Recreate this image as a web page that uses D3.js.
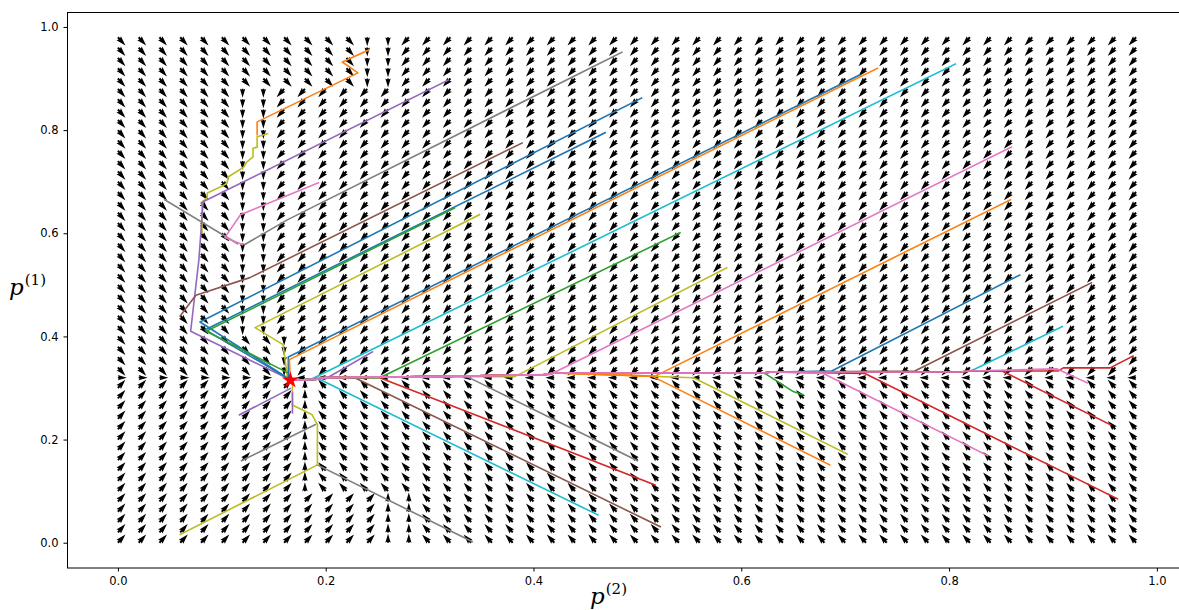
<!DOCTYPE html>
<html><head><meta charset="utf-8">
<script src="https://cdn.jsdelivr.net/npm/d3@7"></script>
<style>body{margin:0;background:#fff}svg{display:block}</style>
</head><body><svg id="chart" width="1179" height="610"></svg>
<script>
// ---------------- data ----------------
const xTicks = [0.0, 0.2, 0.4, 0.6, 0.8, 1.0];
const yTicks = [0.0, 0.2, 0.4, 0.6, 0.8, 1.0];
const gridValues = d3.range(50).map(i => +(i * 0.02).toFixed(2)); // quiver grid 0..0.98

// vector field: rows [yMin,yMax] where the p(2)-component vanishes between xLo and xHi
const bandYMin = [0.00, 0.10, 0.32, 0.34, 0.42, 0.90];
const bandYMax = [0.08, 0.30, 0.32, 0.40, 0.88, 0.98];
const bandXLo  = [0.26, 0.18, 0.16, 0.16, 0.12, 0.24];
const bandXHi  = [0.28, 0.18, 0.16, 0.16, 0.14, 0.26];
const flatRow = 0.32;          // row where the p(1)-component vanishes
const fieldAngleDeg = 48;      // angle of the diagonal arrows

const equilibrium = [0.166, 0.315];

const trunk = [[0.166,0.315],[0.192,0.317],[0.192,0.320],[0.30,0.322],[0.41,0.326],[0.42,0.329],
               [0.62,0.329],[0.63,0.331],[0.81,0.331],[0.82,0.333],[0.905,0.333],[0.91,0.339],[0.958,0.339]];

const trajColors = [
 "#ff7f0e","#bcbd22","#9467bd","#7f7f7f","#7f7f7f","#e377c2","#1f77b4","#1f77b4","#8c564b","#bcbd22","#2ca02c",
 "#d62728","#d62728","#2ca02c","#bcbd22","#ff7f0e","#7f7f7f","#d62728","#8c564b",
 "#17becf","#7f7f7f","#7f7f7f","#bcbd22","#9467bd","#9467bd","#17becf","#8c564b","#1f77b4","#ff7f0e",
 "#bcbd22","#2ca02c","#17becf","#1f77b4","#ff7f0e","#d62728","#9467bd","#e377c2","#e377c2","#e377c2"
];
const trajJoinsTrunk = [
 0,0,0,0,0,0,0,0,0,0,0,
 1,1,1,1,1,1,1,1,
 1,0,0,0,0,0,1,1,1,1,
 1,1,1,0,0,1,1,1,1,1
];
const trajectories = [
 [[0.241,0.955],[0.216,0.932],[0.231,0.911],[0.134,0.816],[0.134,0.791]],
 [[0.144,0.793],[0.134,0.787],[0.134,0.767],[0.130,0.765],[0.130,0.748],[0.124,0.738],[0.121,0.728],[0.106,0.709],[0.105,0.697],[0.100,0.691],[0.086,0.678],[0.086,0.669],[0.081,0.661],[0.081,0.60]],
 [[0.318,0.897],[0.082,0.661],[0.078,0.55],[0.070,0.41],[0.166,0.316]],
 [[0.485,0.951],[0.163,0.626],[0.122,0.578]],
 [[0.045,0.665],[0.115,0.580]],
 [[0.193,0.698],[0.118,0.636],[0.103,0.592],[0.120,0.578]],
 [[0.504,0.862],[0.079,0.428],[0.166,0.316]],
 [[0.469,0.795],[0.084,0.413],[0.166,0.316]],
 [[0.389,0.775],[0.127,0.514],[0.075,0.48],[0.060,0.44]],
 [[0.348,0.636],[0.132,0.417],[0.159,0.384],[0.163,0.322]],
 [[0.324,0.649],[0.085,0.41],[0.163,0.33]],
 [[0.962,0.085],[0.719,0.328]],
 [[0.955,0.229],[0.851,0.333]],
 [[0.659,0.287],[0.650,0.293],[0.623,0.328]],
 [[0.702,0.172],[0.554,0.320]],
 [[0.685,0.151],[0.514,0.323]],
 [[0.500,0.159],[0.336,0.322]],
 [[0.517,0.112],[0.252,0.320]],
 [[0.522,0.031],[0.228,0.320]],
 [[0.462,0.054],[0.193,0.318]],
 [[0.119,0.159],[0.190,0.229]],
 [[0.192,0.151],[0.341,0.002]],
 [[0.060,0.016],[0.192,0.151],[0.192,0.229],[0.187,0.248],[0.168,0.267],[0.168,0.313]],
 [[0.117,0.248],[0.166,0.299]],
 [[0.168,0.252],[0.168,0.290]],
 [[0.909,0.419],[0.825,0.337]],
 [[0.937,0.504],[0.767,0.333]],
 [[0.868,0.519],[0.687,0.333]],
 [[0.859,0.665],[0.517,0.323]],
 [[0.586,0.533],[0.382,0.322]],
 [[0.541,0.601],[0.252,0.320]],
 [[0.806,0.928],[0.185,0.316]],
 [[0.714,0.907],[0.164,0.360],[0.164,0.316]],
 [[0.731,0.920],[0.165,0.355],[0.166,0.316]],
 [[0.977,0.362],[0.955,0.339]],
 [[0.245,0.370],[0.20,0.318]],
 [[0.860,0.767],[0.416,0.326]],
 [[0.837,0.169],[0.679,0.328]],
 [[0.933,0.310],[0.904,0.337]]
];

// ---------------- drawing ----------------
const svg = d3.select("#chart");
const x = d3.scaleLinear().domain([-0.049, 1.029]).range([67, 1187]);
const y = d3.scaleLinear().domain([-0.049, 1.029]).range([568, 12]);

// quiver (matplotlib-style arrow polygons, pivot at tail)
const w = 2.0, baseLen = 11.2;
function arrowPath(px, py, u, v) {
  const mag = Math.hypot(u, v);
  if (mag === 0) return "";
  const L = baseLen * mag / w; // length in shaft widths
  let X, Y;
  if (L >= 5) { X = [0, L - 4.5, L - 5, L, L - 5, L - 4.5, 0]; Y = [0.5, 0.5, 1.5, 0, -1.5, -0.5, -0.5]; }
  else { const s = L / 5; X = [0, 0.5, 0, 5, 0, 0.5, 0].map(d => d * s); Y = [0.5, 0.5, 1.5, 0, -1.5, -0.5, -0.5].map(d => d * s); }
  const ang = Math.atan2(-v, u), c = Math.cos(ang), sn = Math.sin(ang);
  return "M" + X.map((xx, i) => {
    const a = xx * w, b = Y[i] * w;
    return (px + a * c - b * sn).toFixed(2) + "," + (py + a * sn + b * c).toFixed(2);
  }).join("L") + "Z";
}
const ca = Math.cos(fieldAngleDeg * Math.PI / 180), sa = Math.sin(fieldAngleDeg * Math.PI / 180);
function fieldAt(gx, gy) {
  let lo = 0.16, hi = 0.16;
  for (let k = 0; k < bandYMin.length; k++) if (gy >= bandYMin[k] - 1e-9 && gy <= bandYMax[k] + 1e-9) { lo = bandXLo[k]; hi = bandXHi[k]; }
  const su = gx < lo - 1e-9 ? 1 : (gx > hi + 1e-9 ? -1 : 0);
  const sv = Math.abs(gy - flatRow) < 1e-9 ? 0 : (gy > flatRow ? -1 : 1);
  if (su && sv) return [su * ca, sv * sa];
  return [su * 0.8, sv * 0.8];
}
const qd = [];
gridValues.forEach(gy => gridValues.forEach(gx => {
  const [u, v] = fieldAt(gx, gy);
  qd.push(arrowPath(x(gx), y(gy), u, v));
}));
svg.append("g").selectAll("path").data(qd).join("path").attr("d", d => d).attr("fill", "#000");

// trajectories
const line = d3.line().x(d => x(d[0])).y(d => y(d[1]));
const full = trajectories.map((pts, i) => {
  if (!trajJoinsTrunk[i]) return pts;
  const jx = pts[pts.length - 1][0];
  const back = trunk.filter(t => t[0] < jx - 1e-6).reverse();
  return pts.concat(back);
});
svg.append("g").selectAll("path").data(full).join("path")
  .attr("d", d => line(d)).attr("fill", "none")
  .attr("stroke", (d, i) => trajColors[i]).attr("stroke-width", 1.6)
  .attr("stroke-linejoin", "round").attr("stroke-linecap", "square");

// equilibrium marker
svg.append("path").attr("d", d3.symbol().type(d3.symbolStar).size(90)())
  .attr("transform", `translate(${x(equilibrium[0])},${y(equilibrium[1])})`).attr("fill", "#ff0000");

// frame
svg.append("rect").attr("x", 67.5).attr("y", 12.5).attr("width", 1120).attr("height", 555.5)
  .attr("fill", "none").attr("stroke", "#000").attr("stroke-width", 1);

// axes
const xa = svg.append("g").attr("transform", "translate(0,568)")
  .call(d3.axisBottom(x).tickValues(xTicks).tickFormat(d3.format(".1f")).tickSize(3.5).tickPadding(5));
const ya = svg.append("g").attr("transform", "translate(67,0)")
  .call(d3.axisLeft(y).tickValues(yTicks).tickFormat(d3.format(".1f")).tickSize(3.5).tickPadding(5));
[xa, ya].forEach(g => {
  g.select(".domain").remove();
  g.selectAll("text").attr("font-family", "DejaVu Sans").attr("font-size", 11.5).attr("fill", "#000");
  g.selectAll("line").attr("stroke", "#000");
});

// axis labels (math style)
function mathLabel(tx, ty, sup) {
  const t = svg.append("text").attr("x", tx).attr("y", ty).attr("font-family", "DejaVu Serif, Liberation Serif, serif").attr("fill", "#000");
  t.append("tspan").attr("font-style", "italic").attr("font-size", 23).text("p");
  t.append("tspan").attr("font-size", 15).attr("dy", -10).attr("dx", 1).text(sup);
}
mathLabel(9, 295, "(1)");
mathLabel(590, 604, "(2)");
</script></body></html>
